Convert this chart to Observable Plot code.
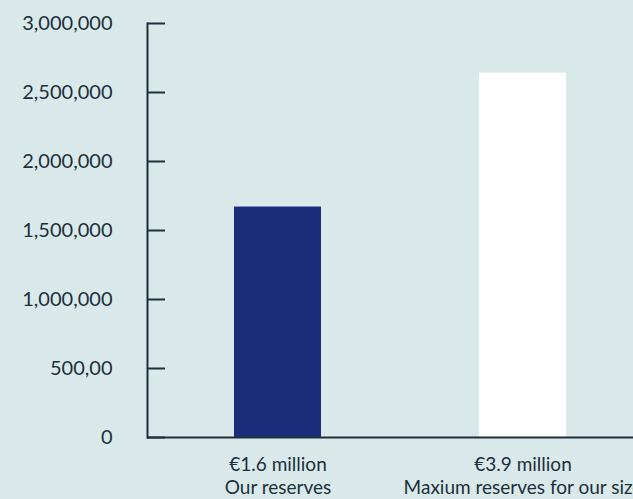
<!DOCTYPE html>
<html>
<head>
<meta charset="utf-8">
<script src="https://cdn.jsdelivr.net/npm/d3@7"></script>
<script src="https://cdn.jsdelivr.net/npm/@observablehq/plot@0.6"></script>
<style>
  html, body { margin: 0; padding: 0; background: #d9e9e9; overflow: hidden; }
  #chart { width: 633px; height: 499px; overflow: hidden; }
</style>
</head>
<body>
<div id="chart"></div>
<script>
const categories = ["Our reserves", "Maxium reserves for our size"];
const amountLabels = ["€1.6 million", "€3.9 million"];
const values = [1670000, 2640000];
const barColors = ["#1b2d7a", "#ffffff"];
const tickValues = [0, 500000, 1000000, 1500000, 2000000, 2500000, 3000000];
const tickLabels = ["0", "500,00", "1,000,000", "1,500,000", "2,000,000", "2,500,000", "3,000,000"];

const data = categories.map((c, i) => ({category: c, amount: amountLabels[i], value: values[i], color: barColors[i]}));
const ink = "#1c2f3c";
const font = "Lato, 'Open Sans', sans-serif";

const chart = Plot.plot({
  width: 633,
  height: 499,
  marginTop: 23,
  marginBottom: 62,
  marginLeft: 147,
  marginRight: 0,
  style: {background: "#d9e9e9", color: ink, fontFamily: font, fontSize: "19px", overflow: "hidden"},
  x: {domain: categories, range: [147, 653], paddingInner: 0.645, paddingOuter: 0.355, axis: null},
  y: {domain: [0, 3000000], axis: null},
  marks: [
    Plot.barY(data, {x: "category", y: "value", fill: "color"}),
    Plot.ruleY([0], {stroke: ink, strokeWidth: 2}),
    Plot.frame({anchor: "left", stroke: ink, strokeWidth: 2}),
    Plot.axisY({ticks: tickValues, label: null, tickSize: 18, dx: 18, tickFormat: () => "", stroke: ink, strokeWidth: 2, strokeOpacity: 1}),
    Plot.axisY({ticks: tickValues, label: null, tickSize: 0, tickPadding: 35, tickFormat: d => tickLabels[tickValues.indexOf(d)], fontSize: 20, fill: ink}),
    Plot.text(data, {x: "category", text: "amount", frameAnchor: "bottom", dy: 27, lineAnchor: "middle", fontSize: 19, fill: ink}),
    Plot.text(data, {x: "category", text: "category", frameAnchor: "bottom", dy: 50, lineAnchor: "middle", fontSize: 19, fill: ink})
  ]
});
document.getElementById("chart").appendChild(chart);
</script>
</body>
</html>
